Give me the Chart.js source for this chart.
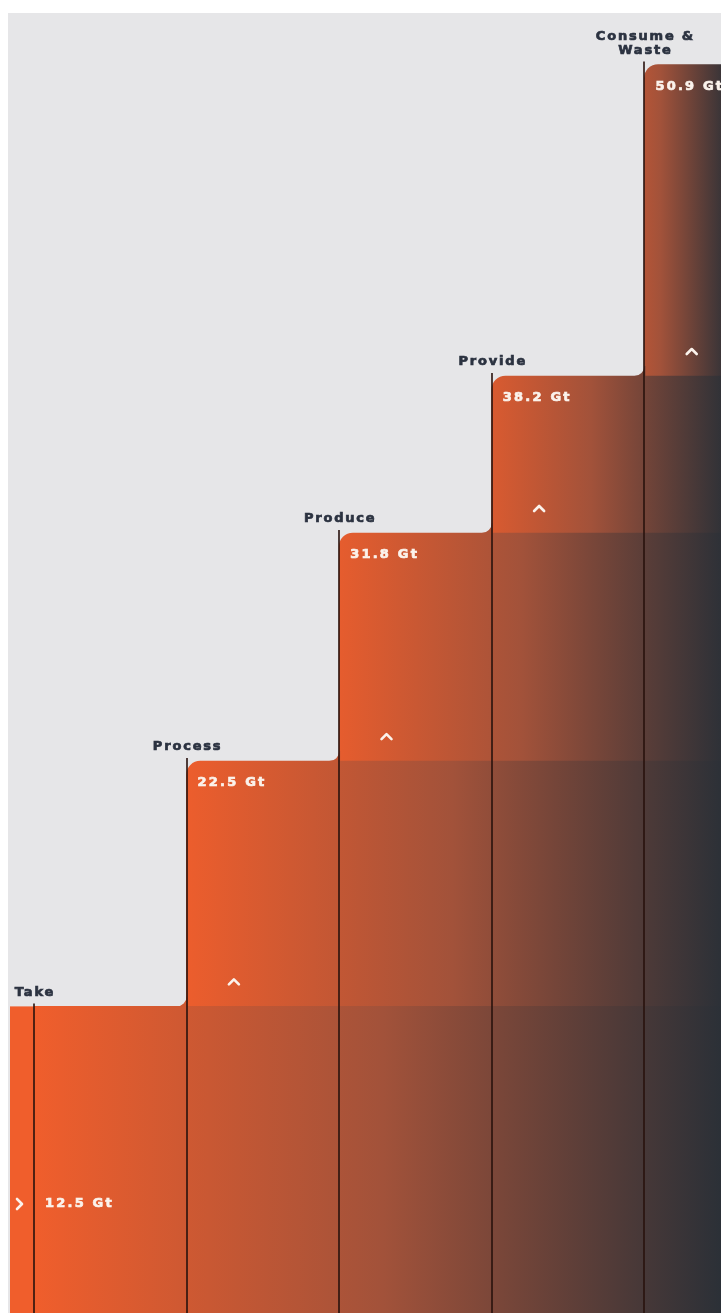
<!DOCTYPE html>
<html>
<head>
<meta charset="utf-8">
<script src="https://cdn.jsdelivr.net/npm/chart.js@4.4.0/dist/chart.umd.min.js"></script>
<style>
  html, body { margin: 0; padding: 0; background: #ffffff; overflow: hidden; }
  #wrap { width: 721px; height: 1313px; overflow: hidden; }
</style>
</head>
<body>
<div id="wrap"><canvas id="stairChart" width="800" height="1313"></canvas></div>
<script>
// stage data (material flow, Gt)
const stages = ['Take', 'Process', 'Produce', 'Provide', 'Consume & Waste'];
const stageLines = [['Take'], ['Process'], ['Produce'], ['Provide'], ['Consume &', 'Waste']];
const gigatonnes = [12.5, 22.5, 31.8, 38.2, 50.9];
const valueLabels = ['12.5 Gt', '22.5 Gt', '31.8 Gt', '38.2 Gt', '50.9 Gt'];

const ORANGE = 'rgb(240,94,44)';
const MIDDLE = 'rgb(162,82,58)';
const DARK = 'rgb(39,47,55)';

var gradCache = {};

function colWidth(chart) {
  return chart.chartArea.width / stages.length;
}
function colLeft(chart, k) {
  return chart.scales.x.getPixelForValue(k) - colWidth(chart) / 2;
}

// every step gets its own left->right gradient, ending in the last column
function layerGradient(chart, k) {
  if (gradCache[k]) return gradCache[k];
  var start = colLeft(chart, k) - k * 14;
  var end = chart.scales.x.getPixelForValue(stages.length - 1) + 12;
  var g = chart.ctx.createLinearGradient(start, 0, end, 0);
  g.addColorStop(0, ORANGE);
  g.addColorStop(0.5, MIDDLE);
  g.addColorStop(1, DARK);
  gradCache[k] = g;
  return g;
}

function chevron(ctx, cx, cy, dir) {
  ctx.save();
  ctx.strokeStyle = '#fbf3ec';
  ctx.lineWidth = 2.6;
  ctx.lineCap = 'round';
  ctx.lineJoin = 'round';
  ctx.beginPath();
  if (dir === 'up') {
    ctx.moveTo(cx - 5, cy + 3);
    ctx.lineTo(cx, cy - 2);
    ctx.lineTo(cx + 5, cy + 3);
  } else {
    ctx.moveTo(cx - 2, cy - 5);
    ctx.lineTo(cx + 3, cy);
    ctx.lineTo(cx - 2, cy + 5);
  }
  ctx.stroke();
  ctx.restore();
}

function heavyText(ctx, txt, x, y) {
  ctx.strokeText(txt, x, y);
  ctx.fillText(txt, x, y);
}

const stairPlugin = {
  id: 'stairs',
  beforeDraw(chart) {
    var ctx = chart.ctx;
    ctx.save();
    ctx.fillStyle = '#ffffff';
    ctx.fillRect(0, 0, chart.width, chart.height);
    ctx.fillStyle = '#e6e6e8';
    ctx.fillRect(8, chart.chartArea.top, chart.width, chart.height);
    ctx.restore();
  },
  beforeDatasetsDraw(chart) {
    // lead-in strip left of the first step
    var ctx = chart.ctx;
    var y = chart.scales.y;
    var top = y.getPixelForValue(gigatonnes[0]);
    ctx.save();
    ctx.fillStyle = layerGradient(chart, 0);
    ctx.fillRect(10, top, colLeft(chart, 0) - 10 + 1, chart.chartArea.bottom - top);
    ctx.restore();
  },
  afterDatasetsDraw(chart) {
    var ctx = chart.ctx;
    var y = chart.scales.y;
    var bottom = chart.chartArea.bottom;
    var cw = colWidth(chart);

    // soft fillet where a step meets the next riser
    for (var k = 0; k < gigatonnes.length - 1; k++) {
      var fx = colLeft(chart, k + 1);
      var fy = y.getPixelForValue(gigatonnes[k]);
      var r = 10;
      ctx.save();
      ctx.fillStyle = layerGradient(chart, k);
      ctx.beginPath();
      ctx.moveTo(fx + 1, fy - r);
      ctx.lineTo(fx + 1, fy + 1);
      ctx.lineTo(fx - r, fy + 1);
      ctx.lineTo(fx - r, fy);
      ctx.arc(fx - r, fy - r, r, Math.PI / 2, 0, true);
      ctx.closePath();
      ctx.fill();
      ctx.restore();
    }

    // risers
    ctx.save();
    ctx.strokeStyle = 'rgba(40,18,12,0.8)';
    ctx.lineWidth = 2;
    for (var i = 0; i < gigatonnes.length; i++) {
      var lx = Math.round(colLeft(chart, i));
      ctx.beginPath();
      ctx.moveTo(lx, y.getPixelForValue(gigatonnes[i]) - 3);
      ctx.lineTo(lx, bottom);
      ctx.stroke();
    }
    ctx.restore();

    // stage names
    ctx.save();
    ctx.font = 'bold 13px "DejaVu Sans"';
    ctx.letterSpacing = '1.8px';
    ctx.fillStyle = '#2b3240';
    ctx.strokeStyle = '#2b3240';
    ctx.lineWidth = 0.7;
    ctx.textAlign = 'center';
    ctx.textBaseline = 'middle';
    for (var s = 0; s < stageLines.length; s++) {
      var lines = stageLines[s];
      var ty = y.getPixelForValue(gigatonnes[s]) - 14;
      for (var n = lines.length - 1; n >= 0; n--) {
        heavyText(ctx, lines[n], colLeft(chart, s) + 1, ty - (lines.length - 1 - n) * 14);
      }
    }
    ctx.restore();

    // values
    ctx.save();
    ctx.font = 'bold 13px "DejaVu Sans"';
    ctx.letterSpacing = '2.2px';
    ctx.fillStyle = '#fbf3ec';
    ctx.strokeStyle = '#fbf3ec';
    ctx.lineWidth = 0.7;
    ctx.textAlign = 'left';
    ctx.textBaseline = 'middle';
    for (var v = 0; v < valueLabels.length; v++) {
      var vy = v === 0 ? bottom - 109 : y.getPixelForValue(gigatonnes[v]) + 22;
      heavyText(ctx, valueLabels[v], colLeft(chart, v) + 11, vy);
    }
    ctx.restore();

    // arrows
    chevron(ctx, colLeft(chart, 0) - 15, bottom - 109, 'right');
    for (var c = 1; c < gigatonnes.length; c++) {
      chevron(ctx, colLeft(chart, c) + cw * 0.31, y.getPixelForValue(gigatonnes[c - 1]) - 25, 'up');
    }
  }
};

// one layer per step: from its own column to the right edge
const datasets = gigatonnes.map(function(v, k) {
  return {
    label: stages[k],
    data: gigatonnes.map(function(_, j) { return j >= k ? v : null; }),
    grouped: false,
    barPercentage: 1,
    categoryPercentage: 1,
    borderWidth: 0,
    borderRadius: function(c) {
      var round = c.dataIndex === c.datasetIndex && c.datasetIndex > 0;
      return round ? { topLeft: 14, topRight: 0, bottomLeft: 0, bottomRight: 0 } : 0;
    },
    backgroundColor: function(c) {
      if (!c.chart.chartArea) return ORANGE;
      return layerGradient(c.chart, c.datasetIndex);
    }
  };
});

var ctx = document.getElementById('stairChart').getContext('2d');
var stairChart = new Chart(ctx, {
  type: 'bar',
  data: { labels: stages, datasets: datasets },
  options: {
    responsive: false,
    animation: false,
    devicePixelRatio: 1,
    layout: { padding: { left: 34, right: 3, top: 13, bottom: 0 } },
    plugins: { legend: { display: false }, tooltip: { enabled: false } },
    scales: {
      x: { display: false, offset: true },
      y: { display: false, min: 0, max: 53 }
    }
  },
  plugins: [stairPlugin]
});
</script>
</body>
</html>
